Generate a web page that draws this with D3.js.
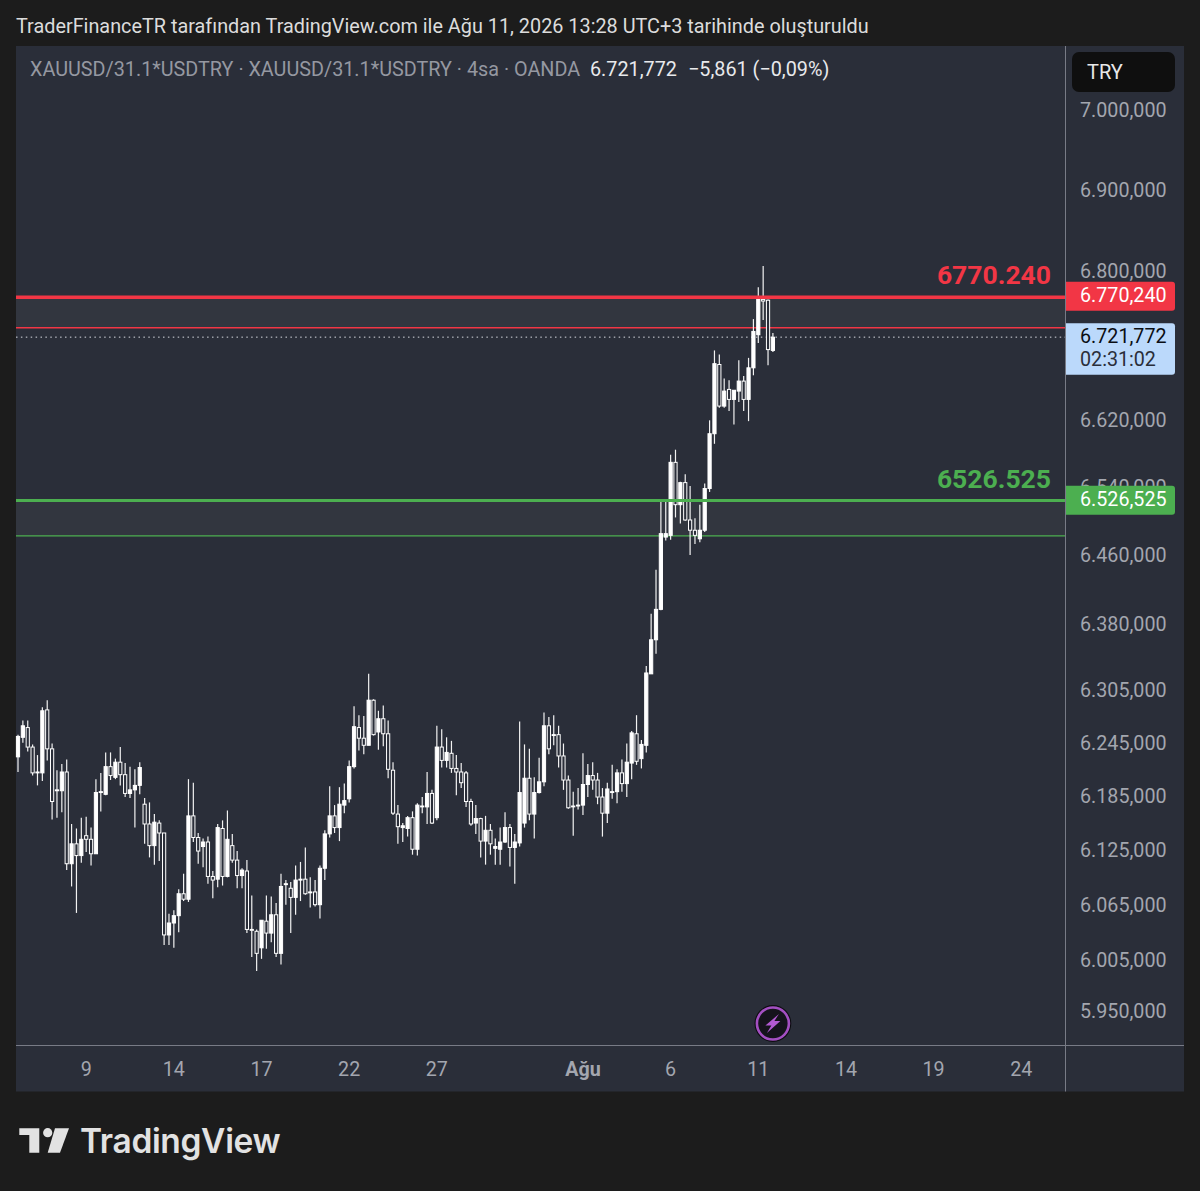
<!DOCTYPE html>
<html><head><meta charset="utf-8">
<script src="https://cdn.jsdelivr.net/npm/d3@7"></script>
<style>html,body{margin:0;padding:0;background:#1c1c1c}svg{display:block}text{font-family:Roboto,sans-serif}</style>
</head><body><div id="c"></div>
<script>
// Prices in thousands of TRY
const opens=[6229,6251,6262,6240,6211,6211,6282,6238,6191,6191,
6212,6110,6132,6119,6141,6137,6121,6189,6187,6218,
6206,6223,6209,6188,6192,6197,6176,6154,6130,6155,
6144,6032,6045,6053,6077,6071,6163,6139,6129,6134,
6096,6093,6149,6096,6130,6114,6097,6102,6038,6036,
6018,6047,6034,6054,6012,6087,6083,6073,6092,6093,
6078,6079,6065,6105,6143,6163,6150,6175,6182,6218,
6262,6250,6242,6293,6257,6272,6255,6214,6165,6150,
6149,6161,6126,6173,6173,6188,6161,6240,6225,6233,
6216,6212,6211,6179,6155,6160,6135,6147,6127,6126,
6134,6150,6128,6133,6155,6205,6165,6189,6201,6264,
6253,6254,6230,6203,6173,6174,6175,6198,6208,6203,
6184,6166,6189,6190,6211,6199,6222,6255,6227,6242,
6323,6362,6397,6481,6483,6569,6519,6545,6501,6489,
6479,6489,6538,6603,6686,6636,6656,6644,6654,6666,
6644,6682,6722,6765,6764,6703];
const highs=[6254,6270,6270,6243,6231,6285,6293,6244,6214,6221,
6226,6154,6149,6161,6162,6150,6204,6211,6234,6234,
6227,6240,6222,6218,6215,6223,6183,6178,6165,6158,
6144,6055,6059,6082,6099,6204,6200,6144,6138,6140,
6102,6154,6158,6169,6143,6124,6105,6114,6075,6038,
6048,6075,6074,6067,6099,6092,6090,6108,6112,6128,
6095,6092,6108,6147,6196,6175,6195,6199,6225,6286,
6276,6275,6323,6294,6281,6287,6270,6223,6175,6155,
6163,6168,6177,6184,6212,6192,6264,6260,6251,6247,
6231,6222,6213,6182,6175,6161,6163,6154,6138,6150,
6167,6154,6143,6269,6243,6238,6206,6228,6279,6274,
6276,6264,6244,6208,6190,6194,6233,6221,6223,6211,
6194,6200,6220,6215,6226,6244,6258,6276,6248,6332,
6392,6443,6523,6524,6578,6584,6546,6555,6541,6503,
6519,6544,6619,6703,6698,6669,6667,6655,6691,6672,
6694,6741,6780,6806,6765,6724];
const lows=[6212,6245,6235,6208,6197,6202,6225,6159,6161,6167,
6103,6085,6056,6111,6123,6108,6121,6168,6186,6203,
6204,6197,6184,6183,6150,6187,6132,6117,6109,6113,
6021,6021,6018,6035,6069,6068,6134,6110,6106,6088,
6072,6084,6086,6095,6111,6083,6083,6034,6008,5993,
6006,6017,6024,6008,6000,6065,6034,6054,6069,6076,
6062,6063,6050,6092,6139,6144,6135,6166,6178,6216,
6236,6232,6242,6253,6237,6241,6205,6164,6132,6134,
6140,6120,6119,6166,6154,6154,6158,6217,6217,6211,
6186,6194,6173,6152,6143,6117,6109,6120,6109,6109,
6133,6107,6088,6129,6150,6158,6138,6188,6196,6232,
6242,6217,6192,6171,6141,6170,6164,6184,6192,6176,
6140,6155,6182,6177,6190,6184,6204,6220,6216,6234,
6323,6346,6396,6477,6478,6504,6497,6500,6460,6473,
6475,6487,6534,6591,6634,6634,6630,6614,6641,6630,
6618,6673,6712,6740,6685,6701];
const closes=[6252,6264,6240,6211,6212,6281,6238,6179,6192,6212,
6110,6132,6119,6137,6137,6121,6189,6190,6218,6208,
6223,6209,6188,6192,6197,6217,6154,6130,6156,6144,
6032,6045,6053,6077,6071,6163,6139,6124,6134,6096,
6092,6150,6096,6137,6114,6097,6103,6038,6037,6012,
6048,6034,6054,6012,6085,6088,6073,6092,6093,6077,
6079,6065,6105,6143,6163,6150,6176,6180,6218,6263,
6250,6242,6293,6254,6272,6255,6215,6166,6151,6152,
6161,6126,6175,6174,6188,6155,6240,6225,6234,6216,
6212,6200,6179,6154,6160,6135,6147,6132,6129,6134,
6150,6128,6134,6189,6205,6165,6189,6201,6264,6238,
6254,6230,6203,6172,6174,6175,6198,6208,6203,6184,
6166,6193,6190,6211,6199,6223,6256,6224,6243,6324,
6362,6397,6485,6485,6569,6519,6545,6501,6489,6483,
6489,6538,6603,6687,6636,6654,6644,6655,6666,6644,
6682,6726,6765,6763,6704,6719];
const readBias=2.7; // candle readings were taken against label centres, which sit just above true price

const yTickValues=[7000,6900,6800,6620,6540,6460,6380,6305,6245,6185,6125,6065,6005,5950];
const yTickLabels=["7.000,000","6.900,000","6.800,000","6.620,000","6.540,000","6.460,000","6.380,000","6.305,000","6.245,000","6.185,000","6.125,000","6.065,000","6.005,000","5.950,000"];
const xTickBars=[14,32,50,68,86,116,134,152,170,188,206];
const xTickLabels=["9","14","17","22","27","Ağu","6","11","14","19","24"];
const resistance=6770.240, resistanceBase=6733.2;
const support=6526.525, supportBase=6485;
const lastPrice=6721.772;

const W=1200,H=1191,L=16,R=1184,T=46,B=1091.5,AX=1065.5,AY=1045.5;
const C={bg:"#1c1c1c",panel:"#2a2e39",grid:"#787b86",tick:"#a3a6af",red:"#f23645",green:"#4caf50",blue:"#bbd9fb",zone:"#32363f"};
const FS=19.7;

const y=d3.scaleLog().domain([7000,5950]).range([112.3,1013.3]);
const x=d3.scaleLinear().domain([0,155]).range([18,772.9]);
const svg=d3.select("#c").append("svg").attr("width",W).attr("height",H);
svg.append("rect").attr("width",W).attr("height",H).attr("fill",C.bg);
svg.append("rect").attr("x",L).attr("y",T).attr("width",R-L).attr("height",B-T).attr("fill",C.panel);

svg.append("text").attr("x",16).attr("y",32.5).attr("font-size",19.83).attr("fill","#dcdcdc")
 .text("TraderFinanceTR tarafından TradingView.com ile Ağu 11, 2026 13:28 UTC+3 tarihinde oluşturuldu");

const leg=svg.append("text").attr("y",76).attr("font-size",19.8);
leg.append("tspan").attr("x",30).attr("fill","#9598a1").text("XAUUSD/31.1*USDTRY · XAUUSD/31.1*USDTRY · 4sa · OANDA");
leg.append("tspan").attr("x",590).attr("fill","#e8e9ec").text("6.721,772");
leg.append("tspan").attr("x",688).attr("fill","#e8e9ec").text("−5,861 (−0,09%)");

// zones
[[resistance,resistanceBase],[support,supportBase]].forEach(([a,b])=>{
 svg.append("rect").attr("x",L).attr("width",AX-L).attr("y",y(a)).attr("height",y(b)-y(a)).attr("fill",C.zone);
});
const hline=(v,col,w)=>svg.append("line").attr("x1",L).attr("x2",AX).attr("y1",y(v)).attr("y2",y(v)).attr("stroke",col).attr("stroke-width",w);
hline(resistanceBase,C.red,1.3);
hline(supportBase,C.green,1.3);
hline(lastPrice,"#d8dbe2",1).attr("stroke-dasharray","1.5 3.4");

// candles
const idx=d3.range(closes.length);
const g=svg.append("g");
g.selectAll("line.w").data(idx).join("line").attr("class","w")
 .attr("x1",i=>x(i)).attr("x2",i=>x(i))
 .attr("y1",i=>y(highs[i]+readBias)).attr("y2",i=>y(lows[i]+readBias))
 .attr("stroke","#f2f2f2").attr("stroke-width",1.2);
g.selectAll("rect.b").data(idx).join("rect").attr("class","b")
 .attr("x",i=>x(i)-1.6).attr("width",3.2)
 .attr("y",i=>y(Math.max(opens[i],closes[i])+readBias))
 .attr("height",i=>Math.max(0.6,y(Math.min(opens[i],closes[i])+readBias)-y(Math.max(opens[i],closes[i])+readBias)))
 .attr("fill",i=>closes[i]>=opens[i]?"#ffffff":C.panel)
 .attr("stroke","#ffffff").attr("stroke-width",1);

hline(resistance,C.red,3.6);
hline(support,C.green,3);

svg.append("text").attr("x",1051).attr("y",y(resistance)-13.5).attr("text-anchor","end").attr("font-size",26.5).attr("font-weight",700).attr("fill",C.red).text("6770.240");
svg.append("text").attr("x",1051).attr("y",y(support)-13).attr("text-anchor","end").attr("font-size",26.5).attr("font-weight",700).attr("fill",C.green).text("6526.525");

// axes
svg.append("line").attr("x1",L).attr("x2",R).attr("y1",AY).attr("y2",AY).attr("stroke",C.grid).attr("stroke-width",1);
svg.append("line").attr("x1",AX).attr("x2",AX).attr("y1",T).attr("y2",B).attr("stroke",C.grid).attr("stroke-width",1);

svg.selectAll("text.yt").data(yTickValues).join("text").attr("class","yt")
 .attr("x",1080).attr("y",d=>y(d)+4.8).attr("font-size",FS).attr("fill",C.tick)
 .text((d,i)=>yTickLabels[i]);
svg.selectAll("text.xt").data(xTickBars).join("text").attr("class","xt")
 .attr("x",d=>x(d)).attr("y",1075.5).attr("text-anchor","middle").attr("font-size",FS)
 .attr("font-weight",(d,i)=>xTickLabels[i]==="Ağu"?700:400).attr("fill",C.tick)
 .text((d,i)=>xTickLabels[i]);

// price tags
const tag=(v,col,h,dy)=>svg.append("path").attr("fill",col)
 .attr("d",`M1066,${y(v)+dy} H1172 a3,3 0 0 1 3,3 V${y(v)+dy+h-3} a3,3 0 0 1 -3,3 H1066 Z`);
tag(resistance,C.red,29,-15.5);
svg.append("text").attr("x",1080).attr("y",y(resistance)+4.8).attr("font-size",FS).attr("fill","#fff").text("6.770,240");
tag(support,C.green,29,-14.7);
svg.append("text").attr("x",1080).attr("y",y(support)+5.2).attr("font-size",FS).attr("fill","#fff").text("6.526,525");
tag(lastPrice,C.blue,51.5,-14);
svg.append("text").attr("x",1080).attr("y",y(lastPrice)+5.5).attr("font-size",FS).attr("fill","#0b0e14").text("6.721,772");
svg.append("text").attr("x",1080).attr("y",y(lastPrice)+28.5).attr("font-size",FS).attr("fill","#2a2e39").text("02:31:02");

// currency box
svg.append("rect").attr("x",1072).attr("y",52).attr("width",103).attr("height",40).attr("rx",7).attr("fill","#0f0f0f");
svg.append("text").attr("x",1087).attr("y",79).attr("font-size",20).attr("fill","#e8e8e8").text("TRY");

// bolt badge
const bx=x(155),by=1023.5;
svg.append("circle").attr("cx",bx).attr("cy",by).attr("r",18.4).attr("fill","#0c0c10");
svg.append("circle").attr("cx",bx).attr("cy",by).attr("r",16).attr("fill","#15131c").attr("stroke","#a34fc1").attr("stroke-width",2.6);
svg.append("path").attr("fill","#b25ad2").attr("transform",`translate(${bx},${by})`)
 .attr("d","M6,-9.5 L-7.5,2 L-1.5,2 L-6,9.5 L7.5,-2.5 L1.5,-2.5 Z");

// logo
const lg=svg.append("g").attr("fill","#e2e2e2");
lg.append("path").attr("d","M19.3,1128.3 H39.3 V1152.7 H29.3 V1135 H19.3 Z");
lg.append("circle").attr("cx",47.7).attr("cy",1132.7).attr("r",4.6);
lg.append("path").attr("d","M55,1128.3 H69 L60,1152.7 H47.7 Z");
lg.append("text").attr("x",80).attr("y",1153).attr("font-size",33.5).attr("font-weight",600)
 .attr("letter-spacing",-0.35).attr("style","font-family:Inter,sans-serif").text("TradingView");
</script></body></html>
